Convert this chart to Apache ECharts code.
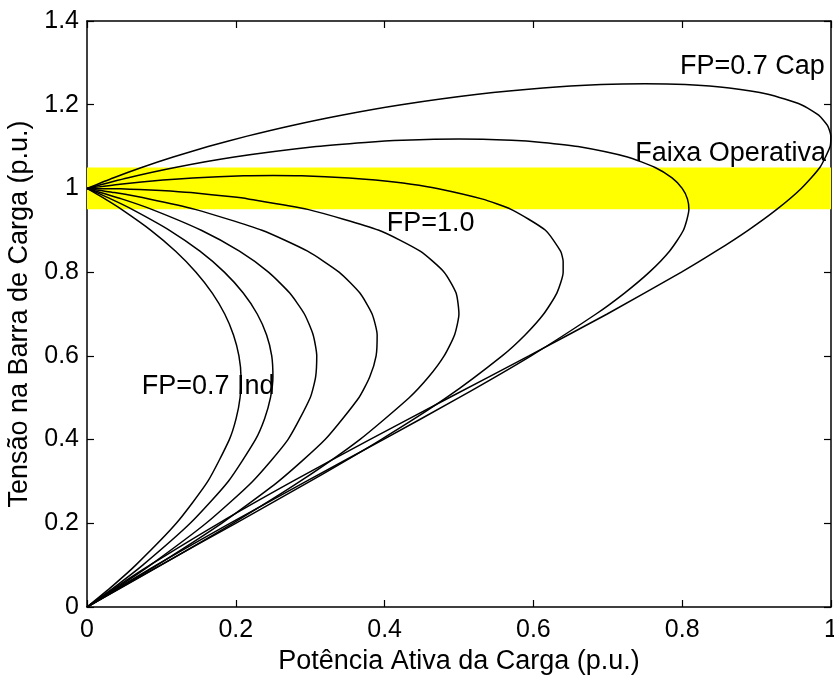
<!DOCTYPE html>
<html>
<head>
<meta charset="utf-8">
<script src="https://cdn.jsdelivr.net/npm/echarts@6/dist/echarts.min.js"></script>
<style>
html,body{margin:0;padding:0;background:#fff;}
#chart{width:834px;height:677px;}
</style>
</head>
<body>
<div id="chart"></div>
<script>
// ---- data: [P (p.u.), V (p.u.)] ----
const curveInd07 = [[0,0],[0.0341,0.05],[0.0655,0.1],[0.12,0.2],[0.1623,0.3],[0.1913,0.4],[0.2004,0.45],[0.2057,0.5],[0.2070,0.55],[0.2042,0.6],[0.1969,0.65],[0.1851,0.7],[0.1684,0.75],[0.1465,0.8],[0.1191,0.85],[0.0859,0.9],[0.0464,0.95],[0.0241,0.975],[0,1]];
const curveInd2 = [[0,0],[0.0388,0.05],[0.0749,0.1],[0.1387,0.2],[0.1898,0.3],[0.2264,0.4],[0.2387,0.45],[0.2466,0.5],[0.2499,0.55],[0.2483,0.6],[0.2414,0.65],[0.2288,0.7],[0.2100,0.75],[0.1846,0.8],[0.1518,0.85],[0.1109,0.9],[0.0607,0.95],[0.0318,0.975],[0,1]];
const curveInd3 = [[0,0],[0.0437,0.05],[0.0851,0.1],[0.16,0.2],[0.2225,0.3],[0.2701,0.4],[0.3,0.5],[0.3073,0.55],[0.3088,0.6],[0.3040,0.65],[0.2922,0.7],[0.2725,0.75],[0.2439,0.8],[0.2049,0.85],[0.1536,0.9],[0.0870,0.95],[0.0465,0.975],[0,1]];
const curveInd4 = [[0,0],[0.0479,0.05],[0.0942,0.1],[0.1809,0.2],[0.2573,0.3],[0.32,0.4],[0.3654,0.5],[0.3801,0.55],[0.3886,0.6],[0.39,0.65],[0.3832,0.7],[0.3668,0.75],[0.3388,0.8],[0.2965,0.85],[0.2351,0.9],[0.1453,0.95],[0.0833,0.975],[0.0369,0.99],[0,1]];
const curveFP10 = [[0,0],[0.0499,0.05],[0.0995,0.1],[0.196,0.2],[0.2862,0.3],[0.3666,0.4],[0.433,0.5],[0.4593,0.55],[0.48,0.6],[0.494,0.65],[0.4999,0.7],[0.4961,0.75],[0.48,0.8],[0.4478,0.85],[0.3923,0.9],[0.2966,0.95],[0.2166,0.975],[0.1950,0.98],[0.1397,0.99],[0.0994,0.995],[0.0705,0.9975],[0.0447,0.999],[0,1]];
const curveCap1 = [[0,0],[0.049,0.05],[0.0989,0.1],[0.1998,0.2],[0.2996,0.3],[0.3953,0.4],[0.483,0.5],[0.558,0.6],[0.5888,0.65],[0.6138,0.7],[0.6315,0.75],[0.64,0.8],[0.64,0.825],[0.6365,0.85],[0.6162,0.9],[0.57,0.95],[0.5306,0.975],[0.4706,1.0],[0.4358,1.01],[0.3875,1.02],[0.3523,1.025],[0.2884,1.03],[0.25,1.0308],[0.2108,1.03],[0.1421,1.025],[0.1021,1.02],[0.0443,1.01],[0,1]];
const curveCap2 = [[0,0],[0.0457,0.05],[0.0931,0.1],[0.192,0.2],[0.2945,0.3],[0.3981,0.4],[0.5,0.5],[0.5968,0.6],[0.6842,0.7],[0.7225,0.75],[0.7559,0.8],[0.7829,0.85],[0.8016,0.9],[0.809,0.95],[0.807,0.975],[0.8,1.0],[0.7864,1.025],[0.7636,1.05],[0.7264,1.075],[0.66,1.1],[0.6117,1.11],[0.5707,1.115],[0.5,1.118],[0.4239,1.115],[0.374,1.11],[0.308,1.1],[0.198,1.075],[0.1184,1.05],[0.0541,1.025],[0,1]];
const curveCap07 = [[0,0],[0.0412,0.05],[0.0845,0.1],[0.1771,0.2],[0.2762,0.3],[0.38,0.4],[0.4866,0.5],[0.5939,0.6],[0.6992,0.7],[0.799,0.8],[0.8454,0.85],[0.8885,0.9],[0.9271,0.95],[0.96,1.0],[0.985,1.05],[0.9988,1.1],[0.9998,1.125],[0.9954,1.15],[0.9834,1.175],[0.96,1.2],[0.9153,1.225],[0.8633,1.24],[0.8041,1.248],[0.75,1.25],[0.6911,1.248],[0.6128,1.24],[0.5253,1.225],[0.4224,1.2],[0.342,1.175],[0.2742,1.15],[0.2152,1.125],[0.1628,1.1],[0.1158,1.075],[0.0734,1.05],[0.035,1.025],[0,1]];

const curveNames = ['FP=0.7 Ind','Ind 2','Ind 3','Ind 4','FP=1.0','Cap 1','Cap 2','FP=0.7 Cap'];
const curves = [curveInd07, curveInd2, curveInd3, curveInd4, curveFP10, curveCap1, curveCap2, curveCap07];

const bandRange = [0.95, 1.05];           // Faixa Operativa (p.u.)
const xTicks = [0, 0.2, 0.4, 0.6, 0.8, 1];
const yTicks = [0, 0.2, 0.4, 0.6, 0.8, 1, 1.2, 1.4];
const xTickLabels = ['0','0.2','0.4','0.6','0.8','1'];
const yTickLabels = ['0','0.2','0.4','0.6','0.8','1','1.2','1.4'];

const annotTexts = ['FP=0.7 Cap','Faixa Operativa','FP=1.0','FP=0.7 Ind'];
const annotP = [0.797, 0.737, 0.403, 0.0735];
const annotV = [1.290, 1.084, 0.917, 0.526];

const xTitle = 'Potência Ativa da Carga (p.u.)';
const yTitle = 'Tensão na Barra de Carga (p.u.)';

// ---- chart ----
const FONT = 'Liberation Sans, Arial, Helvetica, sans-serif';
const FS_TICK = 25;
const FS_TEXT = 27;
function fmt(arr, ticks){ return v => { const i = ticks.findIndex(t => Math.abs(t - v) < 1e-9); return i >= 0 ? arr[i] : ''; }; }

function axisBase(){
  return {
    type: 'value',
    axisLine: { show: true, onZero: false, lineStyle: { color: '#000', width: 1.5 } },
    axisTick: { show: true, inside: true, length: 7, lineStyle: { color: '#000', width: 1.2 } },
    splitLine: { show: false }
  };
}

const chart = echarts.init(document.getElementById('chart'), null, { renderer: 'canvas' });
const series = curves.map((c, i) => ({
  name: curveNames[i],
  type: 'line',
  data: c,
  xAxisIndex: 0, yAxisIndex: 0,
  showSymbol: false, symbol: 'none',
  smooth: 0.2,
  lineStyle: { color: '#000', width: 1.5 },
  z: 4,
  silent: true
}));
series.unshift({
  name: 'Faixa Operativa',
  type: 'line',
  data: [],
  xAxisIndex: 0, yAxisIndex: 0,
  z: 3,
  silent: true,
  markArea: {
    silent: true,
    itemStyle: { color: '#ffff00', opacity: 1 },
    data: [[{ xAxis: xTicks[0], yAxis: bandRange[0] }, { xAxis: xTicks[xTicks.length - 1], yAxis: bandRange[1] }]]
  }
});
series.push({
  type: 'scatter',
  xAxisIndex: 0, yAxisIndex: 0,
  symbolSize: 0,
  silent: true,
  z: 5,
  itemStyle: { color: '#000', opacity: 1 },
  data: annotTexts.map((t, i) => ({ value: [annotP[i], annotV[i]], name: t })),
  label: {
    show: true, position: 'right', distance: 0, opacity: 1,
    textBorderWidth: 0,
    formatter: p => p.name,
    color: '#000', fontSize: FS_TEXT, fontFamily: FONT
  }
});

chart.setOption({
  animation: false,
  backgroundColor: '#fff',
  grid: { left: 87, right: 3, top: 21, bottom: 70, containLabel: false, outerBoundsMode: 'none' },
  xAxis: [
    Object.assign(axisBase(), {
      position: 'bottom', min: xTicks[0], max: xTicks[xTicks.length - 1], interval: 0.2,
      name: xTitle, nameLocation: 'middle', nameGap: 38,
      nameTextStyle: { color: '#000', fontSize: FS_TEXT, fontFamily: FONT },
      axisLabel: { color: '#000', fontSize: FS_TICK, fontFamily: FONT, margin: 11, formatter: fmt(xTickLabels, xTicks), showMaxLabel: true, showMinLabel: true, hideOverlap: false }
    }),
    Object.assign(axisBase(), {
      position: 'top', min: xTicks[0], max: xTicks[xTicks.length - 1], interval: 0.2,
      axisLabel: { show: false }
    })
  ],
  yAxis: [
    Object.assign(axisBase(), {
      position: 'left', min: yTicks[0], max: yTicks[yTicks.length - 1], interval: 0.2,
      name: yTitle, nameLocation: 'middle', nameGap: 50, nameRotate: 90,
      nameTextStyle: { color: '#000', fontSize: FS_TEXT, fontFamily: FONT },
      axisLabel: { color: '#000', fontSize: FS_TICK, fontFamily: FONT, margin: 8, formatter: fmt(yTickLabels, yTicks), showMaxLabel: true, showMinLabel: true, hideOverlap: false }
    }),
    Object.assign(axisBase(), {
      position: 'right', min: yTicks[0], max: yTicks[yTicks.length - 1], interval: 0.2,
      axisLabel: { show: false }
    })
  ],
  series: series
});
</script>
</body>
</html>
